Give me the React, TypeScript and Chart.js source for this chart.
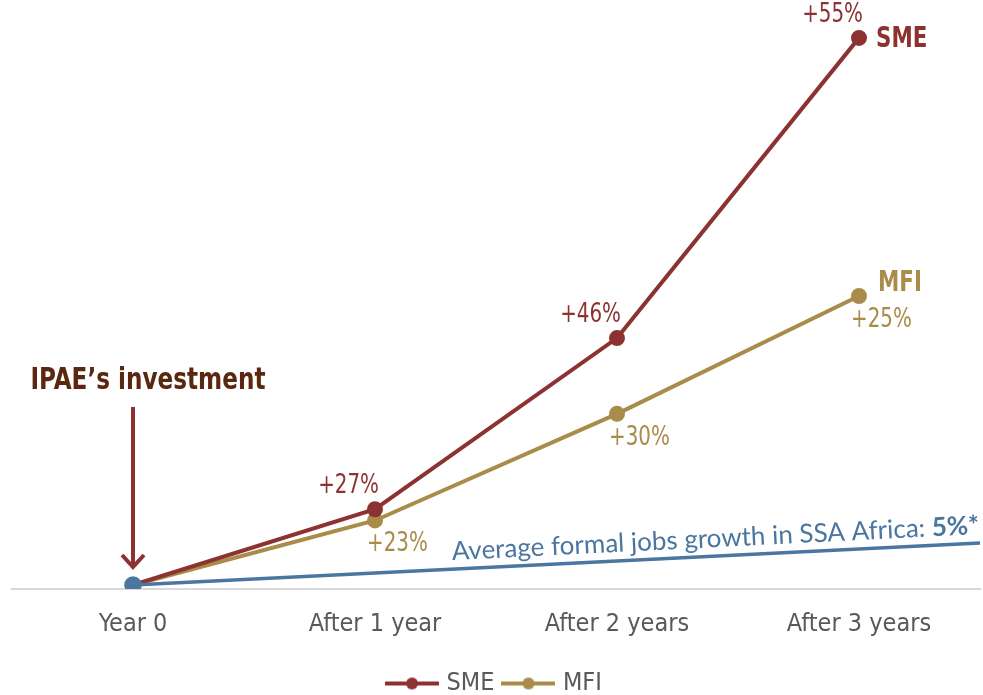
import { useEffect, useRef } from "react";
import { Chart, registerables } from "chart.js";
Chart.register(...registerables);

const categories = ["Year 0", "After 1 year", "After 2 years", "After 3 years"];
const seriesNames = ["SME", "MFI"];
const smeIndex = [100, 127, 188, 295];
const mfiIndex = [100, 123, 161, 203];
const smeLabels = ["", "+27%", "+46%", "+55%"];
const mfiLabels = ["", "+23%", "+30%", "+25%"];
const benchmarkX = [0, 3.5];
const benchmarkIndex = [100, 115];
const benchmarkText = "Average formal jobs growth in SSA Africa: ";
const benchmarkValue = "5%*";
const investmentText = "IPAE\u2019s investment";

const SME_COLOR = "#8c3230";
const MFI_COLOR = "#a98b4a";
const BLUE = "#4a76a0";
const GRAY = "#595959";
const NARROW = "'Liberation Sans Narrow', 'DejaVu Sans Condensed', 'Roboto', sans-serif";
const CAL = "Lato, 'Open Sans', sans-serif";

function legendIcon(color: string) {
  const c = document.createElement("canvas");
  c.width = 54;
  c.height = 14;
  const g = c.getContext("2d")!;
  g.strokeStyle = color;
  g.lineWidth = 4;
  g.beginPath();
  g.moveTo(0, 7);
  g.lineTo(54, 7);
  g.stroke();
  g.fillStyle = color;
  g.beginPath();
  g.arc(27, 7, 6, 0, Math.PI * 2);
  g.fill();
  return c;
}

function drawText(
  ctx: CanvasRenderingContext2D,
  s: string,
  x: number,
  y: number,
  font: string,
  color: string,
  align: "left" | "right" | "center",
  sx: number
) {
  ctx.save();
  ctx.font = font;
  ctx.fillStyle = color;
  ctx.textBaseline = "middle";
  ctx.textAlign = "left";
  const w = ctx.measureText(s).width * sx;
  const left = align === "left" ? x : align === "right" ? x - w : x - w / 2;
  ctx.translate(left, y);
  ctx.scale(sx, 1);
  ctx.fillText(s, 0, 0);
  ctx.restore();
}

const annotPlugin = {
  id: "annot",
  afterDatasetsDraw(chart: any) {
    const ctx = chart.ctx as CanvasRenderingContext2D;
    const blue = chart.getDatasetMeta(0).data;
    const sme = chart.getDatasetMeta(1).data;
    const mfi = chart.getDatasetMeta(2).data;
    const lblFont = `26px ${NARROW}`;
    smeLabels.forEach((t, i) => {
      if (!t) return;
      const p = sme[i];
      drawText(ctx, t, p.x + 4, p.y - 23, lblFont, SME_COLOR, "right", 0.85);
    });
    mfiLabels.forEach((t, i) => {
      if (!t) return;
      const p = mfi[i];
      drawText(ctx, t, p.x - 8, p.y + 24, lblFont, MFI_COLOR, "left", 0.85);
    });
    const nameFont = `bold 28px ${NARROW}`;
    const lastS = sme[sme.length - 1];
    drawText(ctx, seriesNames[0], lastS.x + 17, lastS.y + 2, nameFont, SME_COLOR, "left", 0.85);
    const lastM = mfi[mfi.length - 1];
    drawText(ctx, seriesNames[1], lastM.x + 19, lastM.y - 12, nameFont, MFI_COLOR, "left", 0.85);

    // investment arrow
    const p0 = blue[0];
    ctx.save();
    ctx.strokeStyle = SME_COLOR;
    ctx.lineWidth = 4;
    ctx.beginPath();
    ctx.moveTo(p0.x, p0.y - 178);
    ctx.lineTo(p0.x, p0.y - 19);
    ctx.stroke();
    ctx.lineJoin = "miter";
    ctx.beginPath();
    ctx.moveTo(p0.x - 11, p0.y - 30);
    ctx.lineTo(p0.x, p0.y - 18);
    ctx.lineTo(p0.x + 11, p0.y - 30);
    ctx.stroke();
    ctx.restore();
    drawText(ctx, investmentText, p0.x + 15, p0.y - 204, `bold 31px ${NARROW}`, "#5a2811", "center", 0.83);

    // benchmark annotation along the line
    const b0 = blue[0];
    const b1 = blue[blue.length - 1];
    const ang = Math.atan2(b1.y - b0.y, b1.x - b0.x);
    const right = chart.chartArea.right;
    const yAtRight = b0.y + (right - b0.x) * Math.tan(ang);
    ctx.save();
    ctx.translate(right, yAtRight);
    ctx.rotate(ang);
    ctx.textBaseline = "alphabetic";
    ctx.textAlign = "right";
    ctx.fillStyle = BLUE;
    ctx.font = `bold 26px ${CAL}`;
    const wv = ctx.measureText(benchmarkValue).width;
    ctx.fillText(benchmarkValue, 0, -9);
    ctx.font = `26px ${CAL}`;
    ctx.fillText(benchmarkText, -wv, -9);
    ctx.restore();
  },
};

export default function App() {
  const ref = useRef<HTMLCanvasElement>(null);
  useEffect(() => {
    if (!ref.current) return;
    const icons = [legendIcon(SME_COLOR), legendIcon(MFI_COLOR)];
    const chart = new Chart(ref.current, {
      type: "line",
      data: {
        datasets: [
          {
            label: "benchmark",
            data: benchmarkX.map((x, i) => ({ x, y: benchmarkIndex[i] })),
            borderColor: BLUE,
            backgroundColor: BLUE,
            borderWidth: 3.5,
            pointRadius: [7, 0],
            pointHoverRadius: 0,
          },
          {
            label: seriesNames[0],
            data: smeIndex.map((y, i) => ({ x: i, y })),
            borderColor: SME_COLOR,
            backgroundColor: SME_COLOR,
            borderWidth: 4,
            pointRadius: 6,
          },
          {
            label: seriesNames[1],
            data: mfiIndex.map((y, i) => ({ x: i, y })),
            borderColor: MFI_COLOR,
            backgroundColor: MFI_COLOR,
            borderWidth: 4,
            pointRadius: 6,
          },
        ],
      },
      options: {
        animation: false,
        responsive: true,
        maintainAspectRatio: false,
        layout: { autoPadding: false, padding: { top: 0, left: 12, right: 3, bottom: -11 } },
        elements: { line: { tension: 0 }, point: { pointStyle: "circle" } },
        scales: {
          x: {
            type: "linear",
            min: -0.5,
            max: 3.5,
            grid: { display: false, drawTicks: false },
            border: { display: true, color: "#d9d9d9", width: 2 },
            afterBuildTicks: (axis: any) => {
              axis.ticks = categories.map((_, i) => ({ value: i }));
            },
            ticks: {
              color: GRAY,
              font: { family: NARROW, size: 25 },
              padding: 20,
              callback: (v: any) => categories[v] ?? "",
              maxRotation: 0,
            },
          },
          y: {
            display: false,
            min: 98.57,
            max: 308.5,
          },
        },
        plugins: {
          legend: {
            position: "bottom",
            labels: {
              usePointStyle: true,
              pointStyleWidth: 44,
              boxHeight: 14,
              boxWidth: 44,
              color: GRAY,
              font: { family: NARROW, size: 25 },
              padding: 12,
              generateLabels: (ch: any) =>
                ch.data.datasets
                  .map((d: any, i: number) => ({
                    text: d.label,
                    pointStyle: i > 0 ? icons[i - 1] : "circle",
                    fillStyle: d.borderColor,
                    strokeStyle: d.borderColor,
                    lineWidth: 0,
                    fontColor: GRAY,
                    datasetIndex: i,
                    hidden: false,
                  }))
                  .filter((it: any) => it.datasetIndex > 0),
            },
          },
          tooltip: { enabled: false },
        },
      },
      plugins: [annotPlugin],
    });
    return () => chart.destroy();
  }, []);
  return (
    <div style={{ position: "absolute", left: 0, top: 0, width: 983, height: 695 }}>
      <canvas ref={ref} />
    </div>
  );
}
